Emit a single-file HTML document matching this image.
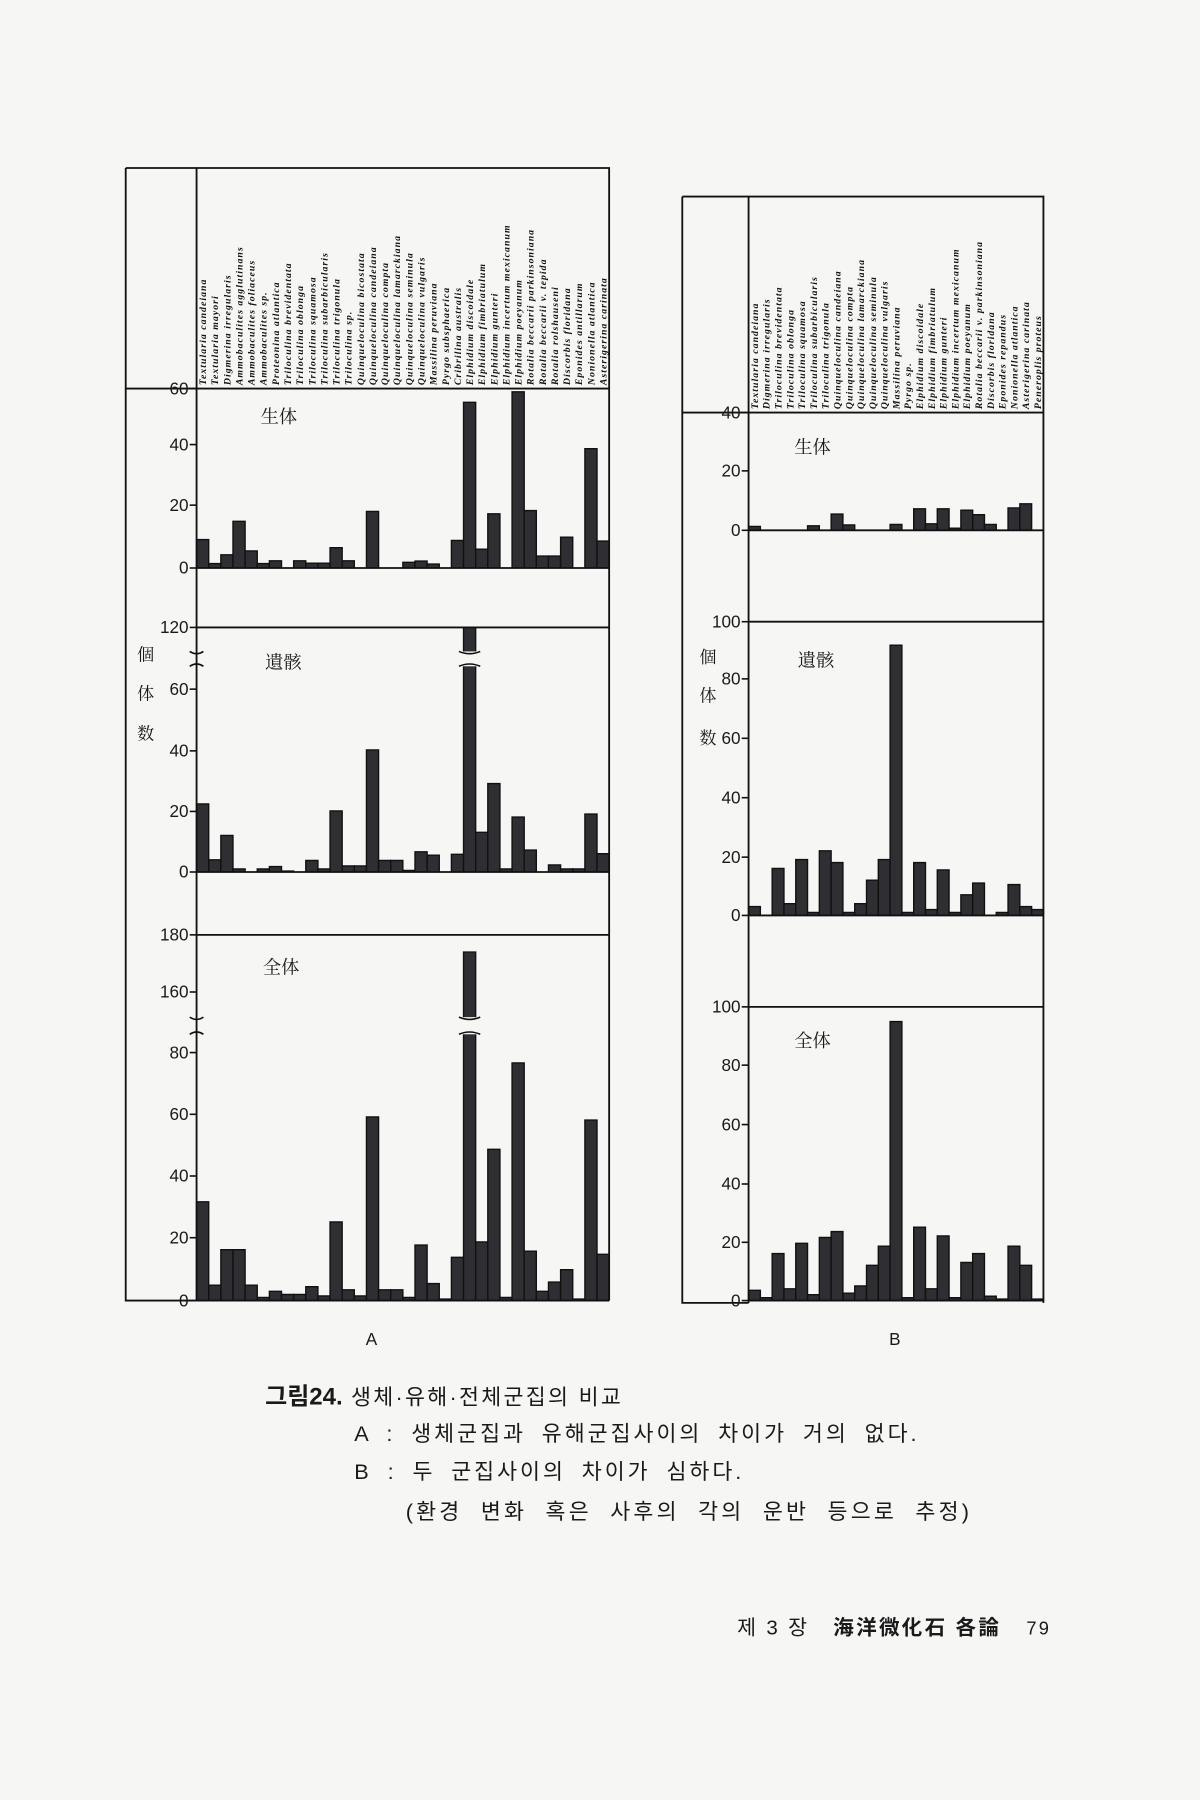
<!DOCTYPE html>
<html><head><meta charset="utf-8">
<style>
html,body{margin:0;padding:0;background:#f6f6f4;}
svg{display:block}
.t{font-family:"Liberation Sans","Noto Sans CJK KR",sans-serif;fill:#1a1a1a}
.k{font-family:"Liberation Sans","Noto Serif CJK SC","Noto Sans CJK SC",sans-serif;fill:#1a1a1a}
.sp{font-family:"Liberation Serif",serif;font-weight:bold;font-style:italic;font-size:8.6px;letter-spacing:0.9px;fill:#111}
</style></head>
<body>
<svg id="s" width="1200" height="1800" viewBox="0 0 1050 1575" preserveAspectRatio="none" xmlns="http://www.w3.org/2000/svg">
<rect width="1050" height="1575" fill="#f6f6f4"/>
<g id="bars" fill="#2e2e33"></g>
<g id="brk" fill="#f6f6f4"></g>
<g stroke="#111" stroke-width="1.6" fill="none">
 <path d="M110 147 H533 V1138 M110 147 V1138 H172 M172 147 V1138 M110 340 H533 M172 549 H533 M172 818 H533"/>
 <path d="M172 497 H533 M172 763 H533 M172 1138 H533"/>
 <path d="M597 172 H913 V1140 M597 172 V1140 H655 M655 172 V1140 M597 361 H913 M655 544 H913 M655 881 H913 M655 464 H913 M655 801 H913 M655 1138 H913"/>
</g>
<g id="ticks" stroke="#111" stroke-width="1.4"></g>
<g id="tl" class="t" font-size="15" text-anchor="end"></g>
<g id="labs"></g>
<g class="k" font-size="16">
<text x="228" y="370">生体</text><text x="232" y="585">遺骸</text><text x="230" y="852">全体</text>
<text x="695" y="397">生体</text><text x="698" y="583">遺骸</text><text x="695" y="916">全体</text>
<text x="120" y="578" font-size="15">個</text><text x="120" y="612" font-size="15">体</text><text x="120" y="647" font-size="15">数</text>
<text x="612" y="580" font-size="15">個</text><text x="612" y="614" font-size="15">体</text><text x="612" y="651" font-size="15">数</text>
</g>
<text class="t" x="325" y="1177" font-size="15" text-anchor="middle">A</text>
<text class="t" x="783" y="1177" font-size="15" text-anchor="middle">B</text>
<g class="t" font-size="19">
<text x="232" y="1229" letter-spacing="2"><tspan font-weight="bold" font-size="21" letter-spacing="0">그림24.</tspan> 생체·유해·전체군집의 비교</text>
<text x="310" y="1261" letter-spacing="2.6" word-spacing="6">A : 생체군집과 유해군집사이의 차이가 거의 없다.</text>
<text x="310" y="1294" letter-spacing="2.6" word-spacing="6">B : 두 군집사이의 차이가 심하다.</text>
<text x="355" y="1329" letter-spacing="2.8" word-spacing="8">(환경 변화 혹은 사후의 각의 운반 등으로 추정)</text>
<text x="645" y="1430" font-size="18" letter-spacing="2">제 3 장 <tspan font-weight="bold" dx="14">海洋微化石 各論</tspan><tspan dx="22" font-size="16">79</tspan></text>
</g>
</svg>
<script>
var NS="http://www.w3.org/2000/svg";
function el(p,n,a,txt){var e=document.createElementNS(NS,n);for(var k in a)e.setAttribute(k,a[k]);if(txt!==undefined)e.textContent=String(txt);document.getElementById(p).appendChild(e);return e;}
function bars(x0,w,vals,yf){for(var i=0;i<vals.length;i++){var v=vals[i];if(v<=0)continue;var y=yf(v),y0=yf(0);el("bars","rect",{x:x0+i*w,y:y,width:w+0.3,height:y0-y});el("bars","path",{d:"M"+(x0+i*w)+" "+y0+"V"+y+"H"+(x0+(i+1)*w)+"V"+y0,stroke:"#111","stroke-width":"1.2",fill:"none"});}}
var A1=[9.5,1.5,4.4,15.6,5.7,1.5,2.4,0,2.4,1.6,1.6,6.8,2.4,0,18.9,0,0,1.9,2.3,1.3,0,9.2,55.4,6.3,18.1,0,58.9,19.2,4,4,10.3,0,39.9,9];
var A2=[22.3,4,12,1,0,1,1.8,0.3,0,3.8,1,20,2,2,40,3.8,3.8,0.5,6.6,5.5,0,5.8,200,13,29,1,18,7.2,0,2.3,1,1,19,6];
var A3=[32,5,16.5,16.5,5,1,3,2,2,4.5,1.5,25.5,3.5,1.5,59.5,3.5,3.5,1,18,5.5,0.5,14,174,19,49,1,77,16,3,6,10,0.5,58.5,15];
var B1=[1.3,0,0,0,0,1.5,0,5.5,1.8,0,0,0,2,0,7.3,2.2,7.3,0.7,6.8,5.3,2,0,7.6,9,0];
var B2=[3,0,16,4,19,1,22,18,1,4,12,19,92,1,18,2,15.5,1,7,11,0,1,10.5,3,2];
var B3=[3.5,1,16,4,19.5,2,21.5,23.5,2.5,5,12,18.5,95,1,25,4,22,1,13,16,1.5,0.5,18.5,12,0.5];
var wa=(533-172)/34, wb=(913-655)/25;
bars(172,wa,A1,function(v){return 497-v*2.617;});
bars(172,wa,A2,function(v){return v>100?549:763-v*2.67;});
bars(172,wa,A3,function(v){return v>100?818+(180-v)*2.5:1138-v*2.70;});
bars(655,wb,B1,function(v){return 464-v*2.58;});
bars(655,wb,B2,function(v){return 801-v*2.57;});
bars(655,wb,B3,function(v){return 1138-v*2.57;});
function brk(x,y1,y2,w){el("brk","rect",{x:x-w/2,y:y1,width:w,height:y2-y1});
 el("ticks","path",{d:"M"+(x-w/2-2)+" "+y1+"q"+(w/2+2)+" 4 "+(w+4)+" 0M"+(x-w/2-2)+" "+y2+"q"+(w/2+2)+" -4 "+(w+4)+" 0",fill:"none"});}
brk(172,570,583,8);brk(172+22.5*wa,570,583,wa+4);
brk(172,890,905,8);brk(172+22.5*wa,890,905,wa+4);
function tk(x,y,l){el("ticks","line",{x1:x-6,y1:y,x2:x,y2:y});el("tl","text",{x:x-7,y:y+5},l);}
[[60,340],[40,389],[20,442],[0,497],[120,549],[60,603],[40,657],[20,710],[0,763],[180,818],[160,868],[80,921],[60,975],[40,1029],[20,1083],[0,1138]].forEach(function(p){tk(172,p[1],p[0]);});
[[40,361],[20,412],[0,464],[100,544],[80,594],[60,646],[40,698],[20,750],[0,801],[100,881],[80,932],[60,984],[40,1036],[20,1087],[0,1138]].forEach(function(p){tk(655,p[1],p[0]);});
var SA=["Textularia candeiana","Textularia mayori","Digmerina irregularis","Ammobaculites agglutinans","Ammobaculites foliaceus","Ammobaculites sp.","Proteonina atlantica","Triloculina brevidentata","Triloculina oblonga","Triloculina squamosa","Triloculina subarbicularis","Triloculina trigonula","Triloculina sp.","Quinqueloculina bicostata","Quinqueloculina candeiana","Quinqueloculina compta","Quinqueloculina lamarckiana","Quinqueloculina seminula","Quinqueloculina vulgaris","Massilina peruviana","Pyrgo subsphaerica","Cribrilina australis","Elphidium discoidale","Elphidium fimbriatulum","Elphidium gunteri","Elphidium incertum mexicanum","Elphidium poeyanum","Rotalia beccarii parkinsoniana","Rotalia beccarii v. tepida","Rotalia rolshauseni","Discorbis floridana","Eponides antillarum","Nonionella atlantica","Asterigerina carinata"];
var SB=["Textularia candeiana","Digmerina irregularis","Triloculina brevidentata","Triloculina oblonga","Triloculina squamosa","Triloculina subarbicularis","Triloculina trigonula","Quinqueloculina candeiana","Quinqueloculina compta","Quinqueloculina lamarckiana","Quinqueloculina seminula","Quinqueloculina vulgaris","Massilina peruviana","Pyrgo sp.","Elphidium discoidale","Elphidium fimbriatulum","Elphidium gunteri","Elphidium incertum mexicanum","Elphidium poeyanum","Rotalia beccarii v. parkinsoniana","Discorbis floridana","Eponides repandus","Nonionella atlantica","Asterigerina carinata","Peneroplis proteus"];
SA.forEach(function(n,i){var x=172+(i+0.5)*wa+3;el("labs","text",{"class":"sp",transform:"translate("+x+",337) rotate(-90)"},n);});
SB.forEach(function(n,i){var x=655+(i+0.5)*wb+3;el("labs","text",{"class":"sp",transform:"translate("+x+",358) rotate(-90)"},n);});
</script>
</body></html>
